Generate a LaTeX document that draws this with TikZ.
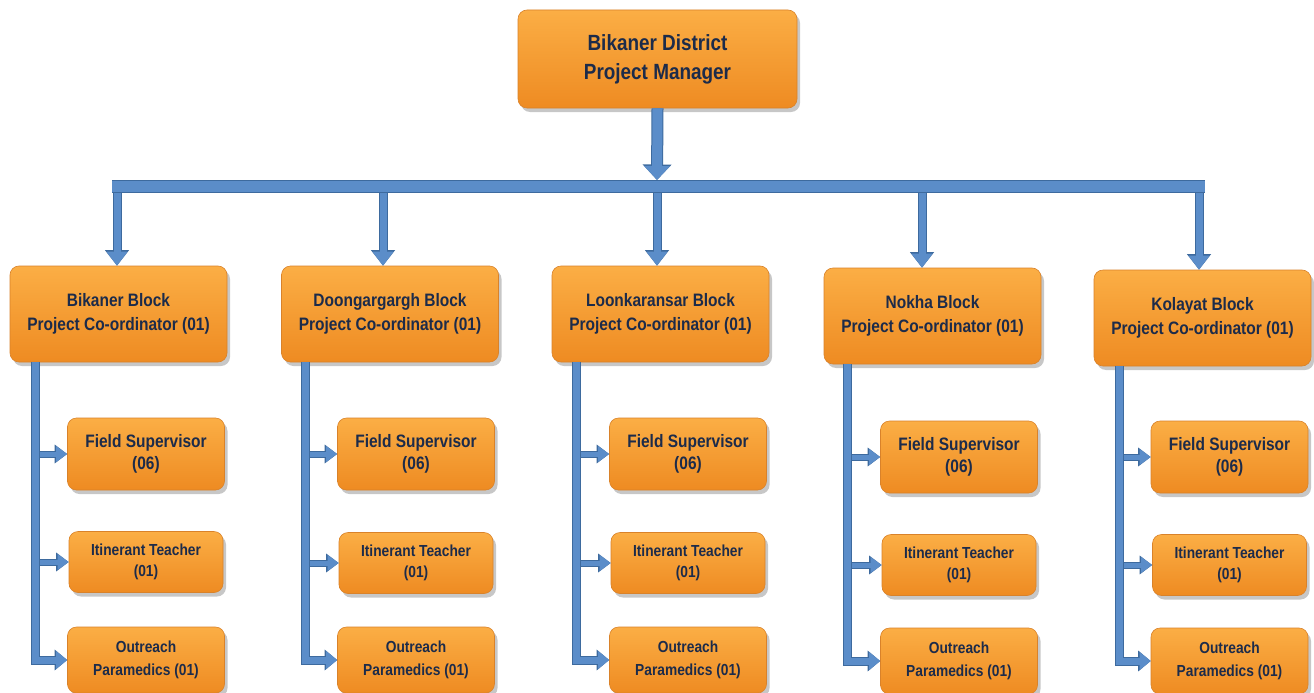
\documentclass[tikz,border=0pt]{standalone}
\usepackage{fontspec}
\setmainfont{Liberation Sans}[FakeStretch=0.86]
\usetikzlibrary{arrows.meta,shadows}
\definecolor{txt}{HTML}{1C2B4A}
\definecolor{otop}{HTML}{FBAE45}
\definecolor{obot}{HTML}{EE8B22}
\definecolor{oedge}{HTML}{D9822A}
\definecolor{lblue}{HTML}{5B8DC9}
\definecolor{dblue}{HTML}{3D6A9E}
\tikzset{
  box/.style={rounded corners=9pt, draw=oedge, line width=0.6pt, top color=otop, bottom color=obot,
    text=txt, align=center, inner sep=0pt,
    drop shadow={shadow xshift=3pt, shadow yshift=-4pt, opacity=0.22, fill=black}},
  topbox/.style={box, minimum width=279pt, minimum height=98pt, font=\bfseries\fontsize{22}{29}\selectfont},
  blockbox/.style={box, minimum width=217pt, minimum height=96pt, font=\bfseries\fontsize{18}{24}\selectfont},
  fieldbox/.style={box, minimum width=157pt, minimum height=72pt, font=\bfseries\fontsize{18}{22}\selectfont},
  itinbox/.style={box, minimum width=154pt, minimum height=61pt, font=\bfseries\fontsize{16}{21}\selectfont},
  outbox/.style={box, minimum width=157pt, minimum height=66pt, font=\bfseries\fontsize{16}{23}\selectfont},
  mainarr/.style={draw=lblue, line width=10pt, -{Triangle[length=14pt,width=25pt]},
    preaction={draw=dblue, line width=12pt, -{Triangle[length=15.5pt,width=28pt]}}},
  downarr/.style={draw=lblue, line width=7pt, -{Triangle[length=14pt,width=20pt]},
    preaction={draw=dblue, line width=9pt, -{Triangle[length=15.5pt,width=23pt]}}},
  sidearr/.style={draw=lblue, line width=5pt, -{Triangle[length=11pt,width=15pt]},
    preaction={draw=dblue, line width=7pt, -{Triangle[length=12.5pt,width=18pt]}}},
  vlarr/.style={draw=lblue, line width=7pt, -{Triangle[length=11pt,width=17pt]},
    preaction={draw=dblue, line width=9pt, -{Triangle[length=12.5pt,width=20pt]}}},
  barline/.style={draw=lblue, line width=11pt, preaction={draw=dblue, line width=13pt}},
}
\begin{document}
\begin{tikzpicture}[x=1pt, y=-1pt]
\useasboundingbox (0,0) rectangle (1314,693);
\clip (0,0) rectangle (1314,693);
\fill[white] (0,0) rectangle (1314,693);

\node[topbox] (top) at (657.5,59) {Bikaner District\\Project Manager};

\coordinate (barL) at (112,186.5);
\coordinate (barR) at (1205,186.5);
\coordinate (barC) at (657,180);

\foreach \n/\cx/\cy/\ax/\vx/\ccx/\fy/\iy/\oy/\name in {
  1/118.5/314/117/35/146/454/562/660/Bikaner Block,
  2/390/314/383/305/416/454/563/660/Doongargargh Block,
  3/660.5/314/657/576/688/454/563/660/Loonkaransar Block,
  4/932.5/316/922/847/959/457/565/661/Nokha Block,
  5/1202.5/318/1199/1119/1229.5/457/565/661/Kolayat Block}
{
  \node[blockbox] (b\n) at (\cx,\cy) {\name\\Project Co-ordinator (01)};
  \node[fieldbox] (f\n) at (\ccx,\fy) {Field Supervisor\\(06)};
  \node[itinbox] (i\n) at (\ccx,\iy) {Itinerant Teacher\\(01)};
  \node[outbox] (o\n) at (\ccx,\oy) {Outreach\\Paramedics (01)};
  \coordinate (d\n) at (\ax,192);
  \coordinate (v\n) at (\vx,0);
  \coordinate (s\n) at (\vx+4.5,0);
  \draw[downarr] (d\n) -- (d\n |- b\n.north);
  \draw[vlarr] (b\n.south -| v\n) -- (o\n.west -| v\n) -- (o\n.west);
  \draw[sidearr] (f\n.west -| s\n) -- (f\n.west);
  \draw[sidearr] (i\n.west -| s\n) -- (i\n.west);
}

\draw[mainarr] (top.south) -- (barC);
\draw[barline] (barL) -- (barR);
\end{tikzpicture}
\end{document}
